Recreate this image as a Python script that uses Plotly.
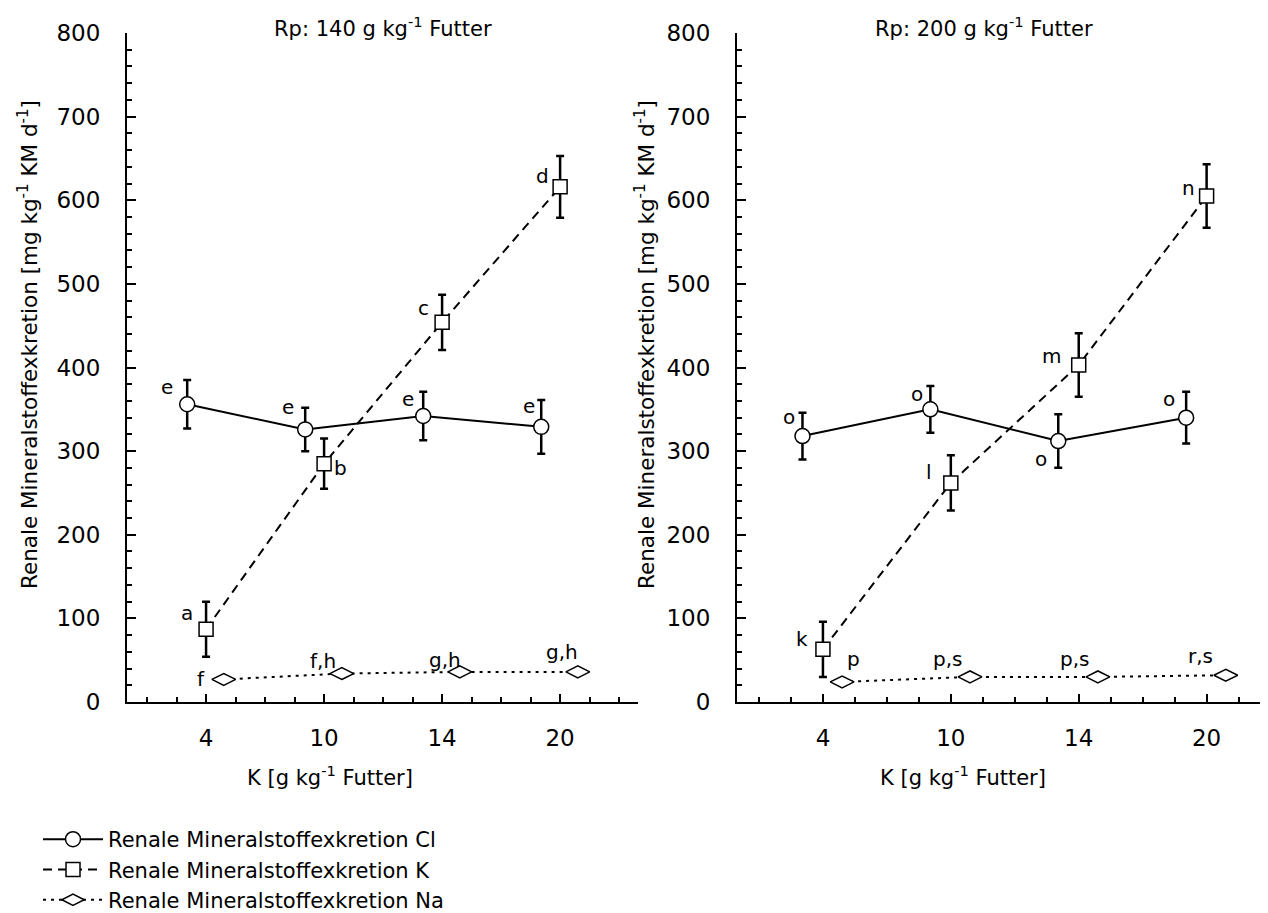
import numpy as np
import plotly.graph_objects as go

# ---------------- data ----------------
k_levels = ["4", "10", "14", "20"]          # K [g kg-1 Futter]
panel_titles = ["Rp: 140 g kg<sup>-1</sup> Futter", "Rp: 200 g kg<sup>-1</sup> Futter"]
series_names = ["Renale Mineralstoffexkretion Cl",
                "Renale Mineralstoffexkretion K",
                "Renale Mineralstoffexkretion Na"]

# Panel 1 (Rp 140)
cl_140 = [356, 326, 342, 329]
cl_140_err = [29, 26, 29, 32]
k_140 = [87, 285, 454, 616]
k_140_err = [33, 30, 33, 37]
na_140 = [27, 34, 36, 36]
na_140_err = [2, 2, 2, 2]
lab_cl_140 = ["e", "e", "e", "e"]
lab_k_140 = ["a", "b", "c", "d"]
lab_na_140 = ["f", "f,h", "g,h", "g,h"]

# Panel 2 (Rp 200)
cl_200 = [318, 350, 312, 340]
cl_200_err = [28, 28, 32, 31]
k_200 = [63, 262, 403, 605]
k_200_err = [33, 33, 38, 38]
na_200 = [24, 30, 30, 32]
na_200_err = [2, 2, 2, 2]
lab_cl_200 = ["o", "o", "o", "o"]
lab_k_200 = ["k", "l", "m", "n"]
lab_na_200 = ["p", "p,s", "p,s", "r,s"]

# ---------------- styling ----------------
FONT = "DejaVu Sans, Arial, sans-serif"
W, H = 1268, 913
PAGE = 8                      # default body margin of the html page
TOP, BOT = 33 - PAGE, 702 - PAGE


def sx(xs_):
    """screen x -> paper x"""
    return (xs_ - PAGE) / W


def sy(ys_):
    """screen y -> paper y"""
    return (BOT - (ys_ - PAGE)) / (BOT - TOP)


pos = np.arange(1, 5)
offsets = {"Cl": -0.16, "K": 0.0, "Na": 0.15}

# label offsets in pixels (dx, dy) relative to marker, dy positive = up
lbl_off_140 = {
    "Cl": [(-20, 17), (-17, 22), (-15, 17), (-12, 21)],
    "K": [(-19, 16), (16, -4), (-19, 14), (-18, 11)],
    "Na": [(-23, 0), (-19, 13), (-15, 12), (-16, 20)],
}
lbl_off_200 = {
    "Cl": [(-13, 19), (-13, 15), (-17, -18), (-17, 19)],
    "K": [(-21, 10), (-22, 11), (-27, 9), (-18, 8)],
    "Na": [(11, 23), (-23, 18), (-23, 18), (-25, 19)],
}

styles = {
    "Cl": dict(symbol="circle", size=15, dash="solid"),
    "K": dict(symbol="square", size=14, dash="9px,6px"),
    "Na": dict(symbol="diamond-wide", size=17, dash="3px,5px"),
}

fig = go.Figure()
annotations = []

panels = [
    dict(xa="x", ya="y", data={"Cl": (cl_140, cl_140_err, lab_cl_140),
                              "K": (k_140, k_140_err, lab_k_140),
                              "Na": (na_140, na_140_err, lab_na_140)},
         offs=lbl_off_140, legend=True),
    dict(xa="x2", ya="y2", data={"Cl": (cl_200, cl_200_err, lab_cl_200),
                                "K": (k_200, k_200_err, lab_k_200),
                                "Na": (na_200, na_200_err, lab_na_200)},
         offs=lbl_off_200, legend=False),
]

for p in panels:
    for i, key in enumerate(["Cl", "K", "Na"]):
        vals, errs, labs = p["data"][key]
        st = styles[key]
        xs = pos + offsets[key]
        fig.add_trace(go.Scatter(
            x=xs, y=vals, xaxis=p["xa"], yaxis=p["ya"],
            mode="lines+markers",
            name=series_names[i], showlegend=p["legend"],
            line=dict(color="black", width=2, dash=st["dash"]),
            marker=dict(symbol=st["symbol"], size=st["size"], color="white",
                        line=dict(color="black", width=1.5)),
            error_y=dict(type="data", array=errs, visible=True,
                         color="black", thickness=2.5, width=4),
        ))
        for j in range(4):
            dx, dy = p["offs"][key][j]
            annotations.append(dict(
                x=xs[j], y=vals[j], xref=p["xa"], yref=p["ya"],
                text=labs[j], showarrow=False, xshift=dx, yshift=dy,
                xanchor="center", yanchor="middle",
                font=dict(family=FONT, size=20, color="black")))

# panel titles
for xc, t in zip([382.5, 984], panel_titles):
    annotations.append(dict(x=sx(xc), y=sy(27), xref="paper", yref="paper",
                            text=t, showarrow=False, xanchor="center",
                            yanchor="middle", font=dict(family=FONT, size=21, color="black")))

ytitle = "Renale Mineralstoffexkretion [mg kg<sup>-1</sup> KM d<sup>-1</sup>]"
xtitle = "K [g kg<sup>-1</sup> Futter]"
for xc in [28, 645]:
    annotations.append(dict(x=sx(xc), y=sy(345), xref="paper", yref="paper",
                            text=ytitle, textangle=-90, showarrow=False,
                            xanchor="center", yanchor="middle",
                            font=dict(family=FONT, size=21.5, color="black")))
for xc in [329.5, 962.5]:
    annotations.append(dict(x=sx(xc), y=sy(776), xref="paper", yref="paper",
                            text=xtitle, showarrow=False,
                            xanchor="center", yanchor="middle",
                            font=dict(family=FONT, size=21, color="black")))

axis_common_y = dict(range=[0, 800], dtick=100, tick0=0, ticks="inside", ticklen=9,
                     tickwidth=2, tickcolor="black", showline=True, linecolor="black",
                     linewidth=2, showgrid=False, zeroline=False,
                     minor=dict(dtick=20, ticks="inside", ticklen=5, tickwidth=1.5,
                                tickcolor="black", showgrid=False),
                     tickfont=dict(family=FONT, size=23, color="black"),
                     ticklabelstandoff=20)
axis_common_x = dict(tickmode="array", tickvals=list(pos), ticktext=k_levels,
                     ticks="inside", ticklen=8, tickwidth=2, tickcolor="black",
                     showline=True, linecolor="black", linewidth=2, showgrid=False,
                     zeroline=False,
                     minor=dict(tick0=0, dtick=0.25, ticks="inside", ticklen=5,
                                tickwidth=1.5, tickcolor="black", showgrid=False),
                     tickfont=dict(family=FONT, size=23, color="black"),
                     ticklabelstandoff=14)

fig.update_layout(
    width=W, height=H,
    margin=dict(l=0, r=0, t=TOP, b=H - BOT, autoexpand=False),
    paper_bgcolor="white", plot_bgcolor="white",
    font=dict(family=FONT, color="black"),
    xaxis=dict(domain=[sx(127), sx(638)], range=[0.33, 4.66], anchor="y", **axis_common_x),
    yaxis=dict(domain=[0, 1], anchor="x", **axis_common_y),
    xaxis2=dict(domain=[sx(737), sx(1268)], range=[0.328, 4.48], anchor="y2", **axis_common_x),
    yaxis2=dict(domain=[0, 1], anchor="x2", **axis_common_y),
    annotations=annotations,
    legend=dict(xref="container", yref="container", x=(38 - PAGE) / W,
                y=1 - (819 - PAGE) / H,
                xanchor="left", yanchor="top", bgcolor="rgba(0,0,0,0)",
                font=dict(family=FONT, size=21, color="black"),
                itemwidth=60, tracegroupgap=0),
    showlegend=True,
)

fig.write_html("out.html")
